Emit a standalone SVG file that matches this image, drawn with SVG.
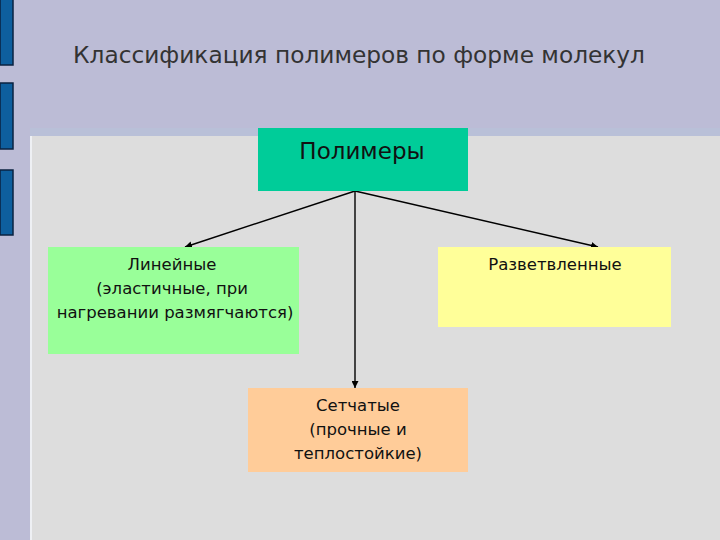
<svg xmlns="http://www.w3.org/2000/svg" width="720" height="540" viewBox="0 0 720 540">
<style>
.t{font-family:"DejaVu Sans","Liberation Sans",sans-serif;fill:#111;text-anchor:middle}
.s{font-size:16.5px}
.bar{fill:#0e5f9e;stroke:#0a2240;stroke-width:1.5}
.c{stroke:#000;stroke-width:1.4;fill:none;marker-end:url(#ah)}
</style>
<defs>
<marker id="ah" viewBox="0 0 10 10" refX="10" refY="5" markerWidth="7" markerHeight="7" markerUnits="userSpaceOnUse" orient="auto">
<path d="M0,0 L10,5 L0,10 z" fill="#000"/>
</marker>
</defs>
<g id="background">
<rect x="0" y="0" width="720" height="540" fill="#bcbcd6"/>
<rect x="30" y="128" width="690" height="8" fill="#b9c0d8"/>
<rect x="30" y="136" width="690" height="404" fill="#dddddd"/>
<rect x="30" y="136" width="2" height="404" fill="#eef0f4"/>
<rect class="bar" x="0" y="-2" width="13" height="67"/>
<rect class="bar" x="0" y="83" width="13" height="66"/>
<rect class="bar" x="0" y="170" width="13" height="65"/>
</g>
<g id="title">
<text x="359" y="63" font-family="DejaVu Sans,Liberation Sans,sans-serif" font-size="23" fill="#333" text-anchor="middle" textLength="572" lengthAdjust="spacingAndGlyphs">Классификация полимеров по форме молекул</text>
</g>
<g id="connectors">
<path class="c" d="M355,191 L185,247"/>
<path class="c" d="M355,191 L598,247"/>
<path class="c" d="M355,191 L355,388"/>
</g>
<g id="node-polymers">
<rect x="258" y="128" width="210" height="63" fill="#00cc99"/>
<text class="t" x="362" y="159" font-size="23">Полимеры</text>
</g>
<g id="node-linear">
<rect x="48" y="247" width="251" height="107" fill="#99ff99"/>
<text class="t s" x="172" y="270">Линейные</text>
<text class="t s" x="172" y="294">(эластичные, при</text>
<text class="t s" x="175" y="318">нагревании размягчаются)</text>
</g>
<g id="node-branched">
<rect x="438" y="247" width="233" height="80" fill="#ffff99"/>
<text class="t s" x="555" y="270">Разветвленные</text>
</g>
<g id="node-network">
<rect x="248" y="388" width="220" height="84" fill="#ffcc99"/>
<text class="t s" x="358" y="411">Сетчатые</text>
<text class="t s" x="358" y="435">(прочные и</text>
<text class="t s" x="358" y="459">теплостойкие)</text>
</g>
</svg>
